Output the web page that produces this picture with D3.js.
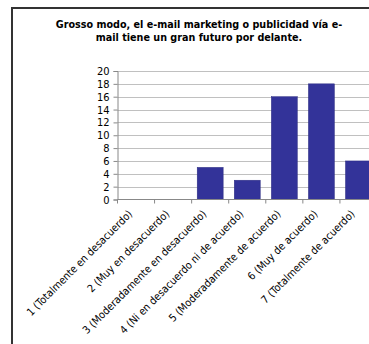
<!DOCTYPE html>
<html>
<head>
<meta charset="utf-8">
<script src="https://cdn.jsdelivr.net/npm/d3@7"></script>
<style>
  body { margin: 0; background: #fff; }
  svg { display: block; }
</style>
</head>
<body>
<svg id="chart" width="369" height="344"></svg>
<script>
var titleLines = ['Grosso modo, el e-mail marketing o publicidad vía e-', 'mail tiene un gran futuro por delante.'];
var categories = ['1 (Totalmente en desacuerdo)', '2 (Muy en desacuerdo)', '3 (Moderadamente en desacuerdo)',
  '4 (Ni en desacuerdo ni de acuerdo)', '5 (Moderadamente de acuerdo)', '6 (Muy de acuerdo)', '7 (Totalmente de acuerdo)'];
var counts = [0, 0, 5, 3, 16, 18, 6];
var yTicks = [0, 2, 4, 6, 8, 10, 12, 14, 16, 18, 20];

function drawChart() {
  var svg = d3.select('#chart');
  var W = 369;
  var mLeft = 117.5, mRight = 377, mTop = 71, mBottom = 199.5;
  var font = 'Tahoma, "DejaVu Sans Condensed", "DejaVu Sans", sans-serif';

  // frame (only the top and left edges fall inside the window)
  svg.append('rect').attr('x', 12).attr('y', 8).attr('width', 400).attr('height', 400)
    .attr('fill', '#fff').attr('stroke', '#333').attr('stroke-width', 2);

  svg.append('text')
    .attr('x', 199).attr('y', 28)
    .attr('text-anchor', 'middle')
    .attr('font-family', font).attr('font-weight', 'bold').attr('font-size', 10.7)
    .attr('fill', '#000')
    .selectAll('tspan').data(titleLines).enter().append('tspan')
    .attr('x', 199).attr('dy', function (d, i) { return i ? 12.5 : 0 })
    .text(function (d) { return d });

  var x = d3.scaleBand().domain(categories).range([mLeft, mRight]).paddingInner(0.3).paddingOuter(0.15);
  var y = d3.scaleLinear().domain([0, 20]).range([mBottom, mTop]);

  // gridlines
  svg.append('g').selectAll('line').data(yTicks.slice(1)).enter().append('line')
    .attr('x1', mLeft).attr('x2', W)
    .attr('y1', function (d) { return Math.round(y(d)) + 0.5 })
    .attr('y2', function (d) { return Math.round(y(d)) + 0.5 })
    .attr('stroke', '#c0c0c0').attr('stroke-width', 1);

  // bars
  svg.append('g').selectAll('rect').data(counts).enter().append('rect')
    .attr('x', function (d, i) { return x(categories[i]) })
    .attr('y', function (d) { return y(d) })
    .attr('width', x.bandwidth())
    .attr('height', function (d) { return mBottom - y(d) })
    .attr('fill', '#333399')
    .attr('stroke', '#2a2a80').attr('stroke-width', 0.5);

  // y axis
  var yAxis = svg.append('g').attr('transform', 'translate(' + mLeft + ',0)')
    .call(d3.axisLeft(y).tickValues(yTicks).tickSize(4).tickPadding(4));
  yAxis.select('.domain').attr('stroke', '#888');
  yAxis.selectAll('.tick line').attr('stroke', '#888');
  yAxis.selectAll('text').attr('font-family', font).attr('font-size', 11).attr('fill', '#000');

  // x axis: ticks sit between categories
  var n = categories.length;
  var xAxis = svg.append('g').attr('transform', 'translate(0,' + mBottom + ')');
  xAxis.append('line').attr('x1', mLeft).attr('x2', W).attr('stroke', '#888');
  xAxis.selectAll('line.tk').data(d3.range(n + 1)).enter().append('line')
    .attr('class', 'tk')
    .attr('x1', function (i) { return mLeft + i * (mRight - mLeft) / n })
    .attr('x2', function (i) { return mLeft + i * (mRight - mLeft) / n })
    .attr('y1', 0).attr('y2', 4).attr('stroke', '#888');
  xAxis.selectAll('text').data(categories).enter().append('text')
    .attr('transform', function (d) {
      return 'translate(' + (x(d) + x.bandwidth() / 2 - 3) + ',15) rotate(-45)'
    })
    .attr('text-anchor', 'end')
    .attr('font-family', font).attr('font-size', 10.7).attr('fill', '#000')
    .text(function (d) { return d });
}
drawChart();
</script>
</body>
</html>
